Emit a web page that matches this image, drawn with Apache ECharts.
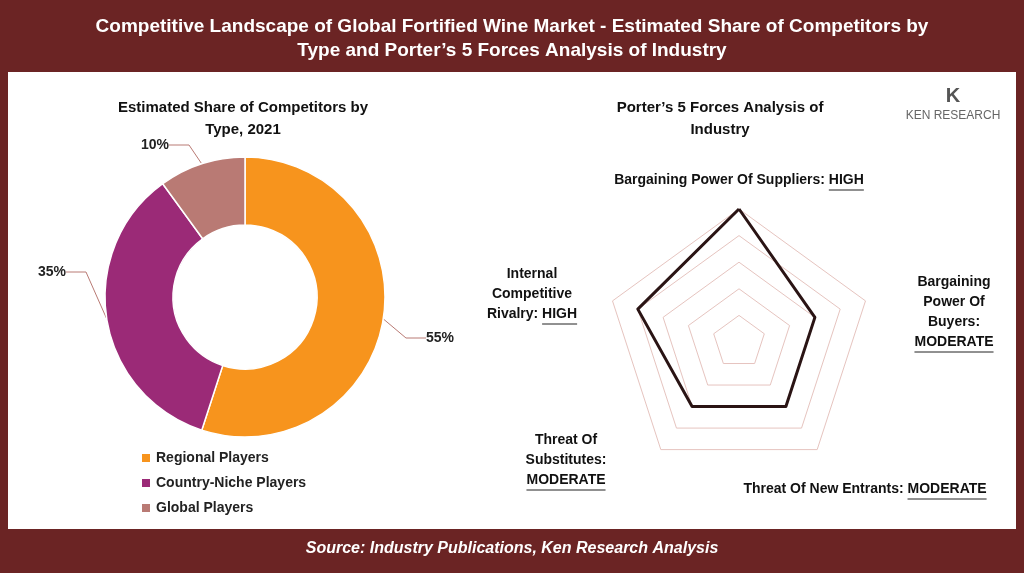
<!DOCTYPE html>
<html><head><meta charset="utf-8">
<script src="https://cdn.jsdelivr.net/npm/echarts@6/dist/echarts.min.js"></script>
<style>html,body{margin:0;padding:0;background:#fff}#c{width:1024px;height:573px}</style>
</head><body><div id="c"></div>
<script>
const shareCategories = ['Regional Players','Country-Niche Players','Global Players'];
const shareValues = [55,35,10];
const shareColors = ['#f7941d','#9b2a77','#b97a74'];
const forces = ['Bargaining Power Of Suppliers','Internal Competitive Rivalry','Threat Of Substitutes','Threat Of New Entrants','Bargaining Power Of Buyers'];
const forceValues = [5,4,3,3,3];
const maroon = '#6b2424';
const F = 'Liberation Sans, Arial, sans-serif';
const FONT = 'bold 14px '+F;
const ctx = document.createElement('canvas').getContext('2d'); ctx.font = FONT;
const w = s => ctx.measureText(s).width;
const chart = echarts.init(document.getElementById('c'));
const g = [];
// lines: array of strings; last line = prefix + underlined word
function label(cx, top, lines, uw){
  lines.forEach((l,i)=>{
    g.push({type:'text',x:cx,y:top+i*20,style:{text:l,fill:'#111',font:FONT,align:'center'}});
  });
  const last = lines[lines.length-1], lw = w(last), uwW = w(uw);
  const x2 = cx + lw/2, x1 = x2 - uwW, y = top+(lines.length-1)*20+17;
  g.push({type:'line',shape:{x1,y1:y,x2,y2:y},style:{stroke:'#222',lineWidth:1}});
}
g.push(
  {type:'rect',shape:{x:0,y:0,width:1024,height:573},style:{fill:maroon}},
  {type:'rect',shape:{x:8,y:72,width:1008,height:457},style:{fill:'#fff'}},
  {type:'text',x:512,y:15,style:{text:'Competitive Landscape of Global Fortified Wine Market - Estimated Share of Competitors by\nType and Porter’s 5 Forces Analysis of Industry',fill:'#fff',font:'bold 19px '+F,align:'center',lineHeight:24}},
  {type:'text',x:512,y:541,style:{text:'Source: Industry Publications, Ken Research Analysis',fill:'#fff',font:'italic bold 16px '+F,align:'center'}},
  {type:'text',x:243,y:97,style:{text:'Estimated Share of Competitors by\nType, 2021',fill:'#111',font:'bold 15px '+F,align:'center',lineHeight:22}},
  {type:'text',x:720,y:97,style:{text:'Porter’s 5 Forces Analysis of\nIndustry',fill:'#111',font:'bold 15px '+F,align:'center',lineHeight:22}},
  {type:'text',x:953,y:110,style:{text:'KEN RESEARCH',fill:'#666',font:'12px '+F,align:'center'}},
  {type:'text',x:953,y:86,style:{text:'K',fill:'#555',font:'bold 20px '+F,align:'center'}}
);
label(739,173,['Bargaining Power Of Suppliers: HIGH'],'HIGH');
label(532,267,['Internal','Competitive','Rivalry: HIGH'],'HIGH');
label(954,275,['Bargaining','Power Of','Buyers:','MODERATE'],'MODERATE');
label(566,433,['Threat Of','Substitutes:','MODERATE'],'MODERATE');
label(865,482,['Threat Of New Entrants: MODERATE'],'MODERATE');
const labelPos = [[440,338],[52,272],[155,145]];
chart.setOption({
  animation:false,
  graphic:g,
  legend:{orient:'vertical',left:135,top:446,itemWidth:10,itemHeight:10,itemGap:11,icon:'rect',
    textStyle:{fontSize:14,fontFamily:F,fontWeight:'bold',color:'#222'},data:shareCategories},
  radar:{center:[739,342],radius:133,splitNumber:5,startAngle:90,
    indicator:forces.map(n=>({name:n,max:5,min:0})),
    axisName:{show:false},
    splitLine:{lineStyle:{color:'#e6c4bf',width:1}},
    splitArea:{show:false},axisLine:{show:false}},
  series:[
    {type:'pie',center:[245,297],radius:[72,140],startAngle:90,clockwise:true,
      data:shareCategories.map((n,i)=>({name:n,value:shareValues[i],itemStyle:{color:shareColors[i]}})),
      itemStyle:{borderColor:'#fff',borderWidth:1.5},
      label:{formatter:'{c}%',fontSize:14,fontWeight:'bold',fontFamily:F,color:'#222',position:'outside'},
      labelLine:{length:10,length2:20,lineStyle:{color:'#b97a74'}},
      labelLayout:p=>({x:labelPos[p.dataIndex][0],y:labelPos[p.dataIndex][1],align:'center',verticalAlign:'middle'})},
    {type:'radar',symbol:'none',data:[{value:forceValues}],lineStyle:{color:'#2a1414',width:3}}
  ]
});
</script></body></html>
